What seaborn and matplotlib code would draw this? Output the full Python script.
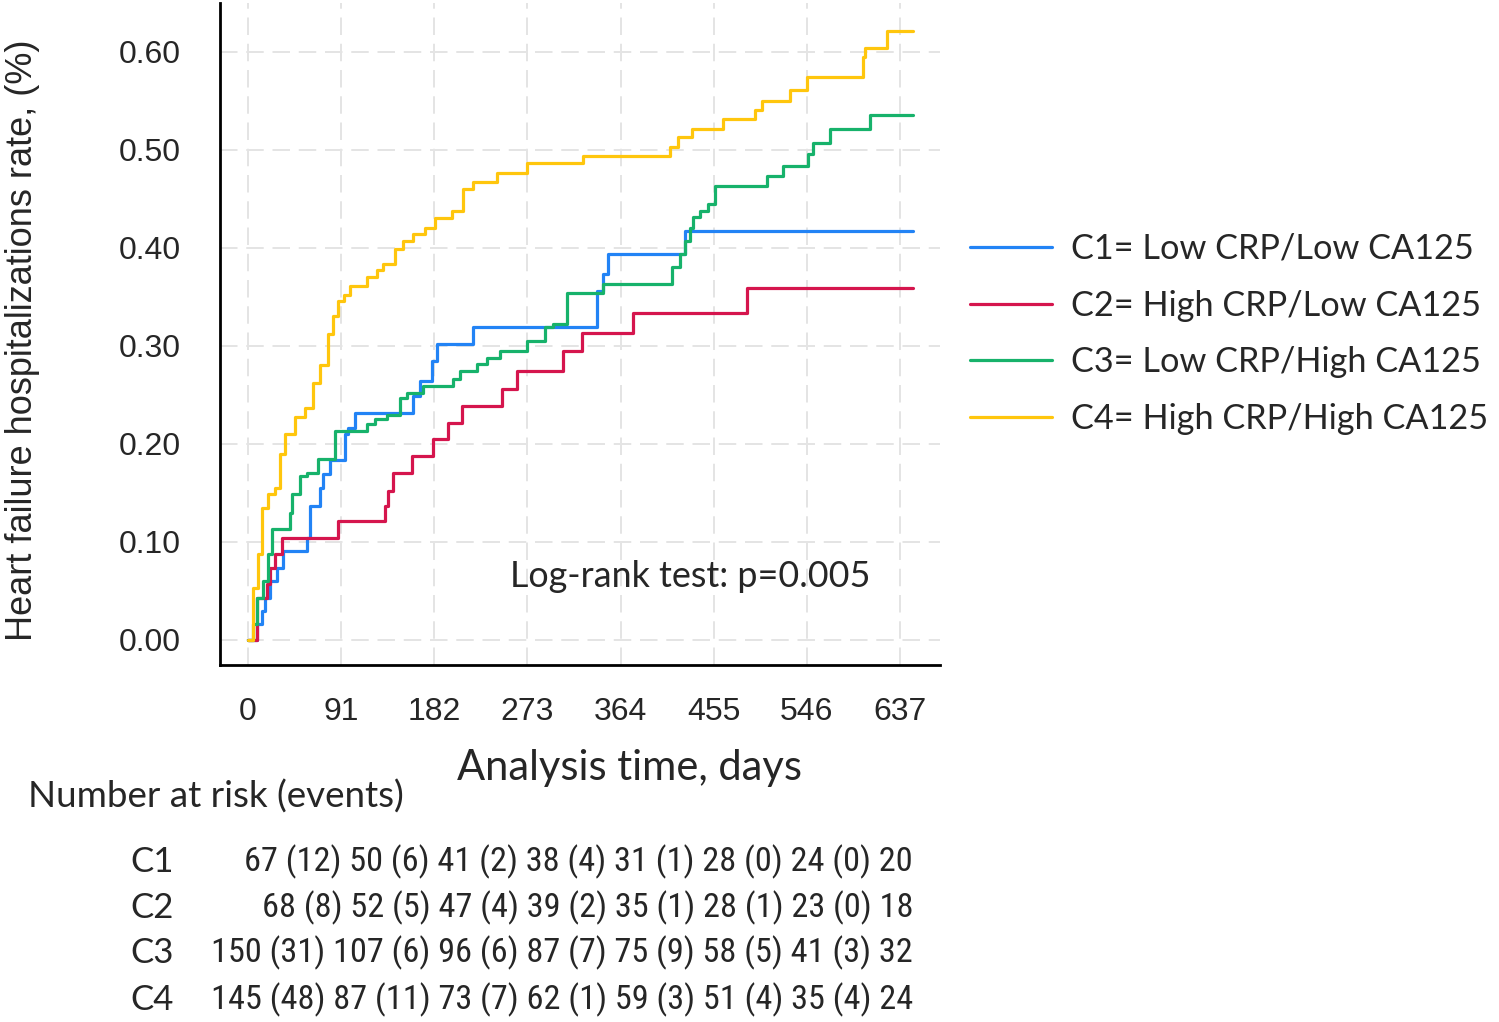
import pandas as pd
import seaborn as sns
import matplotlib.pyplot as plt
from matplotlib import font_manager

# Datos (dias, tasa acumulada)
c1_dias = [0, 8.8, 13.7, 16.6, 21.5, 28.3, 34, 57.6, 60.6, 70.3, 73.3, 80, 94.8, 97.7, 104.5,
           161, 168, 180, 184.7, 220, 341, 347, 352, 427, 650]
c1_tasa = [0, 0.016, 0.03, 0.043, 0.06, 0.073, 0.091, 0.104, 0.137, 0.155, 0.169, 0.184, 0.21, 0.216, 0.232,
           0.249, 0.264, 0.285, 0.302, 0.319, 0.356, 0.373, 0.394, 0.417, 0.417]

c2_dias = [0, 8.8, 18.6, 21.5, 26.4, 33.2, 88, 134, 137, 142, 160, 181, 195, 209, 248, 263,
           308, 326, 376, 488, 650]
c2_tasa = [0, 0.043, 0.057, 0.073, 0.088, 0.104, 0.121, 0.137, 0.152, 0.17, 0.188, 0.205, 0.221, 0.239, 0.256, 0.274,
           0.295, 0.313, 0.334, 0.359, 0.359]

c3_dias = [0, 4.9, 8.8, 14.7, 19.5, 23.4, 41, 43, 51, 58, 68, 85, 116, 124, 136, 148.5, 155, 171,
           200, 207, 224, 233.5, 246, 273, 290, 298, 312, 347, 414, 422, 427, 432, 435, 442, 449, 456,
           507, 523, 547, 552, 569, 608, 650]
c3_tasa = [0, 0.016, 0.043, 0.06, 0.088, 0.113, 0.13, 0.149, 0.167, 0.17, 0.185, 0.213, 0.22, 0.225, 0.229, 0.247, 0.252, 0.259,
           0.266, 0.274, 0.281, 0.288, 0.295, 0.305, 0.319, 0.322, 0.354, 0.363, 0.38, 0.394, 0.407, 0.42, 0.431, 0.438, 0.445, 0.463,
           0.473, 0.483, 0.496, 0.507, 0.521, 0.535, 0.535]

c4_dias = [0, 4.9, 9.8, 13.7, 19.5, 26.4, 31, 36, 46, 56, 63.5, 70, 78, 83, 88, 94, 100, 116, 126, 132,
           144, 151, 161, 173, 183, 199, 210, 220, 243, 273, 327, 412, 420, 434, 464, 495, 502, 530, 546,
           601, 603, 624, 650]
c4_tasa = [0, 0.053, 0.088, 0.135, 0.149, 0.155, 0.19, 0.21, 0.227, 0.237, 0.262, 0.28, 0.312, 0.33, 0.346, 0.352, 0.361, 0.37, 0.377, 0.384,
           0.399, 0.407, 0.414, 0.42, 0.43, 0.438, 0.46, 0.467, 0.476, 0.486, 0.494, 0.503, 0.513, 0.521, 0.531, 0.541, 0.55, 0.561, 0.574,
           0.595, 0.604, 0.621, 0.621]

grupos = ['C1= Low CRP/Low CA125', 'C2= High CRP/Low CA125',
          'C3= Low CRP/High CA125', 'C4= High CRP/High CA125']
colores = ['#2283f5', '#d5154d', '#17b26b', '#ffc60d']

ticks_x = [0, 91, 182, 273, 364, 455, 546, 637]
ticks_y = [0.0, 0.1, 0.2, 0.3, 0.4, 0.5, 0.6]

# Numero en riesgo (eventos)
filas = ['C1', 'C2', 'C3', 'C4']
riesgo = [[67, 50, 41, 38, 31, 28, 24, 20],
          [68, 52, 47, 39, 35, 28, 23, 18],
          [150, 107, 96, 87, 75, 58, 41, 32],
          [145, 87, 73, 62, 59, 51, 35, 24]]
eventos = [[12, 6, 2, 4, 1, 0, 0],
           [8, 5, 4, 2, 1, 1, 0],
           [31, 6, 6, 7, 9, 5, 3],
           [48, 11, 7, 1, 3, 4, 4]]

# Tabla larga para seaborn
partes = []
for nombre, t, r in zip(grupos, [c1_dias, c2_dias, c3_dias, c4_dias], [c1_tasa, c2_tasa, c3_tasa, c4_tasa]):
    partes.append(pd.DataFrame({'dias': t, 'tasa': r, 'grupo': nombre}))
df = pd.concat(partes, ignore_index=True)

sns.set_style('white')

# buscar una fuente angosta (tipo Arial Narrow) si existe
disponibles = {f.name for f in font_manager.fontManager.ttflist}
angosta, estiramiento = 'Liberation Sans', 'normal'
for c in ['Liberation Sans Narrow', 'Roboto Condensed', 'Open Sans Condensed', 'DejaVu Sans Condensed']:
    if c in disponibles:
        angosta = c
        break
else:
    for f in font_manager.fontManager.ttflist:
        if f.name in ('Roboto', 'Open Sans', 'DejaVu Sans', 'Noto Sans') and f.stretch in ('condensed', 'semi-condensed') \
                and f.style == 'normal' and f.weight in (400, 'normal', 'regular'):
            angosta, estiramiento = f.name, f.stretch
            break

plt.rcParams['font.family'] = ['Liberation Sans', 'DejaVu Sans']
texto = ['Lato', 'DejaVu Sans']

W, H = 1499, 1022
fig = plt.figure(figsize=(W / 100, H / 100), dpi=100)
ax = fig.add_axes([220 / W, 1 - 665 / H, 720 / W, 662 / H])

sns.lineplot(data=df, x='dias', y='tasa', hue='grupo', palette=colores, hue_order=grupos,
             drawstyle='steps-post', estimator=None, lw=2.3, ax=ax)

ax.set_xlim(-27.4, 676.1)
ax.set_ylim(-0.0255, 0.6497)
ax.set_xticks(ticks_x)
ax.set_yticks(ticks_y)
ax.set_yticklabels([f'{v:.2f}' for v in ticks_y])
ax.grid(True, color='#e4e4e4', linestyle=(0, (9, 4.5)), lw=1.4)
ax.set_axisbelow(True)

for lado in ['top', 'right']:
    ax.spines[lado].set_visible(False)
for lado in ['left', 'bottom']:
    ax.spines[lado].set_color('black')
    ax.spines[lado].set_linewidth(2)
ax.tick_params(axis='both', length=11, width=2, color='black', labelsize=23, direction='out')
ax.tick_params(axis='y', pad=17)
ax.tick_params(axis='x', pad=12)

ax.set_ylabel('Heart failure hospitalizations rate, (%)', fontsize=26)
ax.yaxis.set_label_coords(-0.25, 0.49)
ax.set_xlabel('Analysis time, days', fontsize=30, family=texto)
ax.xaxis.set_label_coords(0.569, -0.127)

ax.text(0.403, 0.133, 'Log-rank test: p=0.005', transform=ax.transAxes, fontsize=25.8,
        family=texto, ha='left', va='center')

handles, labels = ax.get_legend_handles_labels()
ax.legend(handles, labels, loc='center left', bbox_to_anchor=(970 / W, 1 - 334 / H),
          bbox_transform=fig.transFigure, frameon=False, prop={'family': texto, 'size': 24.7},
          handlelength=2.4, handletextpad=0.55, labelspacing=0.72, borderpad=0, borderaxespad=0)

fig.text(28 / W, 1 - 797 / H, 'Number at risk (events)', fontsize=26.5, family=texto, ha='left', va='center')
filas_y = [862, 908, 953, 1000]
textos_tabla = []
for nombre, n, e, yy in zip(filas, riesgo, eventos, filas_y):
    tokens = []
    for i, v in enumerate(n):
        tokens.append(str(v))
        if i < len(e):
            tokens.append(f'({e[i]})')
    fig.text(130 / W, 1 - yy / H, nombre, fontsize=25, family=texto, ha='left', va='center')
    textos_tabla.append(fig.text(913 / W, 1 - yy / H, ' '.join(tokens), fontsize=22, family=angosta,
                                 fontstretch=estiramiento, ha='right', va='center'))

# ajustar el tamano para que la fila C3 mida ~700 px como en la figura
renderer = fig.canvas.get_renderer()
ancho = textos_tabla[2].get_window_extent(renderer).width
tam = min(22 * 700 / ancho, 27)
for t in textos_tabla:
    t.set_fontsize(tam)

fig.savefig('out.png', dpi=100)
